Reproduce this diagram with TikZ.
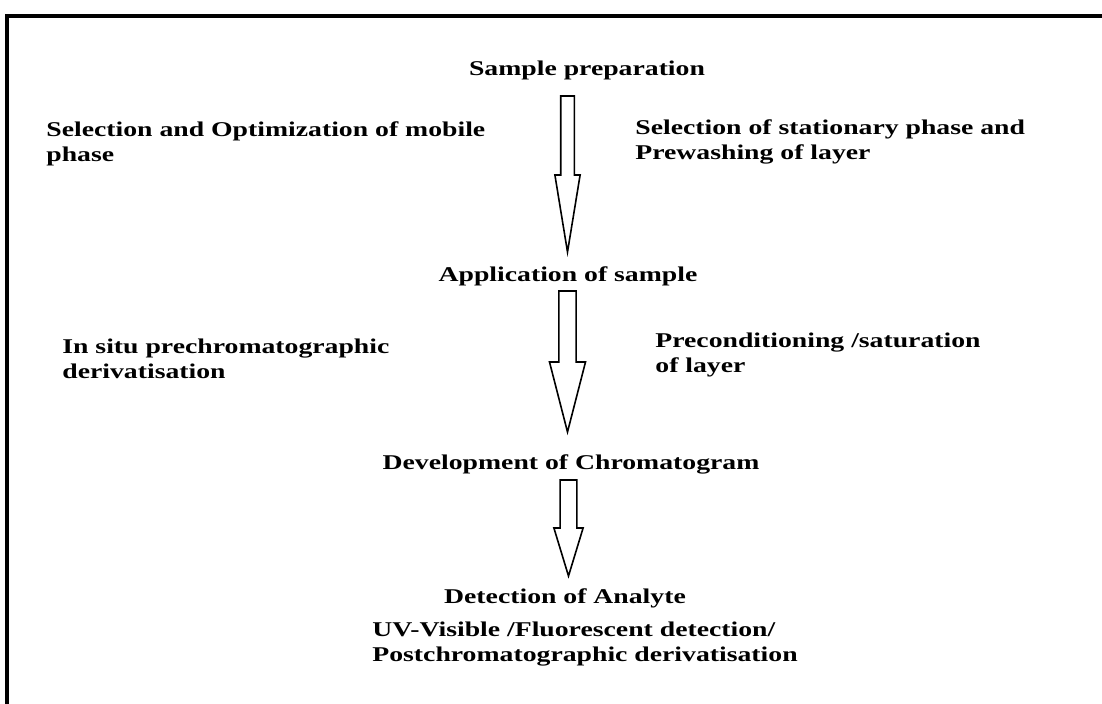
\documentclass[tikz,border=0pt]{standalone}
\usepackage{fontspec}
\setmainfont[FakeStretch=1.32]{Liberation Serif}
\usetikzlibrary{calc,positioning}
\tikzset{
    stage/.style={
        font=\bfseries\fontsize{10.5pt}{12.5pt}\selectfont,
        inner sep=0pt,
        align=center
    },
    note/.style={
        font=\bfseries\fontsize{10.5pt}{12.5pt}\selectfont,
        inner sep=0pt,
        align=left,
        anchor=west
    },
    hollow/.style={
        draw,
        line width=0.8pt,
        fill=white
    },
    frame/.style={line width=2pt}
}
% hollow block arrow: top, tip, shaft half width, head half width, head length
\newcommand{\hollowarrow}[5]{%
    \draw[hollow] let \p1=(#1), \p2=(#2) in
        (\x1-#3,\y1) -- (\x1+#3,\y1) -- (\x1+#3,\y2+#5) -- (\x1+#4,\y2+#5)
        -- (\x1,\y2) -- (\x1-#4,\y2+#5) -- (\x1-#3,\y2+#5) -- cycle;}

\begin{document}
\begin{tikzpicture}[x=0.5pt,y=-0.5pt]
\useasboundingbox (0,0) rectangle (1102,704);

\draw[frame] (1102,16) -- (7,16) -- (7,704);

\node[stage] (prep) at (587,70) {Sample preparation};
\node[stage] (appl) at (568,276) {Application of sample};
\node[stage] (devel) at (571,464) {Development of Chromatogram};
\node[stage] (detect) at (565,598) {Detection of Analyte};
\node[note] (uv) at (372,644)
    {UV-Visible /Fluorescent detection/\\Postchromatographic derivatisation};

\node[note] (mobile) at (46,144) {Selection and Optimization of mobile\\phase};
\node[note] (station) at (635,142) {Selection of stationary phase and\\Prewashing of layer};
\node[note] (insitu) at (62,359) {In situ prechromatographic\\derivatisation};
\node[note] (precond) at (655,355) {Preconditioning /saturation\\of layer};

\coordinate (a1top) at (567.5,96);
\coordinate (a1tip) at (567.5,252);
\coordinate (a2top) at (567.5,291);
\coordinate (a2tip) at (567.5,432);
\coordinate (a3top) at (568.5,480);
\coordinate (a3tip) at (568.5,576);

\hollowarrow{a1top}{a1tip}{3.4pt}{6.3pt}{38.5pt}
\hollowarrow{a2top}{a2tip}{4.3pt}{9pt}{35pt}
\hollowarrow{a3top}{a3tip}{4.2pt}{7.3pt}{24pt}

\end{tikzpicture}
\end{document}
